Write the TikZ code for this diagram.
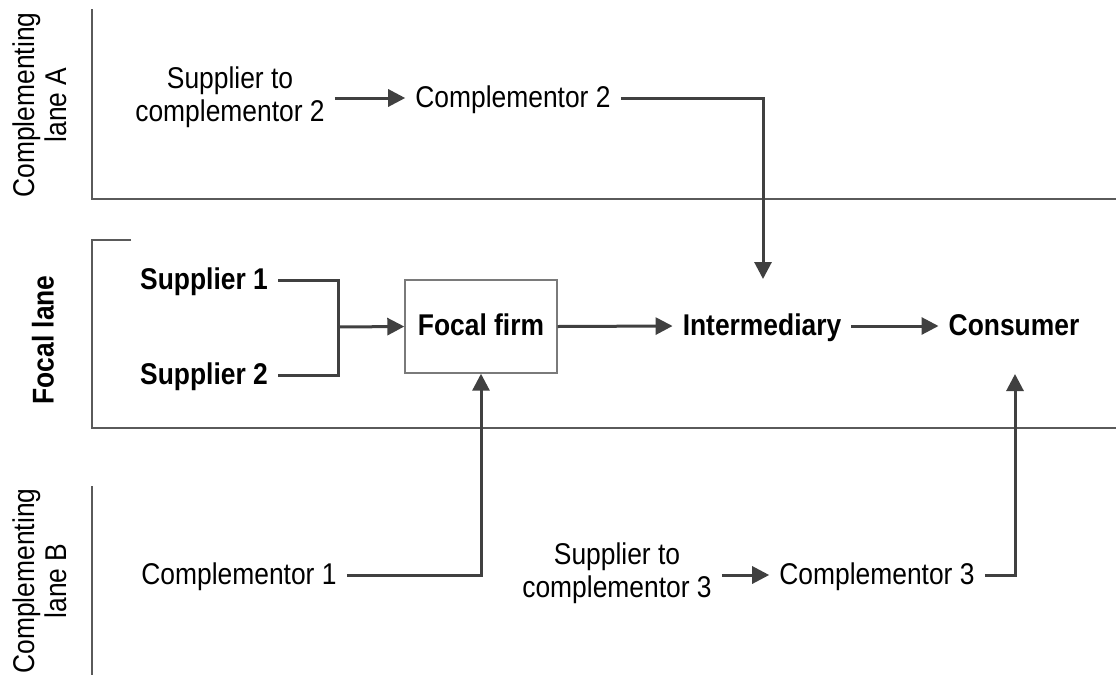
\documentclass[tikz,border=0pt]{standalone}
\usepackage{fontspec}
\setmainfont{Liberation Sans}[FakeStretch=0.88]
\usetikzlibrary{arrows.meta}
\definecolor{linegray}{HTML}{404040}
\definecolor{lanegray}{HTML}{5A5A5A}
\definecolor{boxgray}{HTML}{7A7A7A}
\begin{document}
\begin{tikzpicture}[x=1pt,y=-1pt,
  every node/.style={font=\fontsize{30}{32.5}\selectfont},
  lbl/.style={inner xsep=10pt,inner ysep=2pt,align=center},
  one/.style={lbl,text height=22pt,text depth=4pt},
  bold/.style={one,font=\fontsize{30}{32.5}\selectfont\bfseries},
  lanetitle/.style={rotate=90,align=center,inner sep=0pt},
  laneline/.style={draw=lanegray,line width=1.5pt},
  flow/.style={draw=linegray,line width=3pt},
  arr/.style={flow,-{Triangle[length=17pt,width=17pt]}},
  firmbox/.style={draw=boxgray,line width=1.4pt,minimum width=152pt,minimum height=93pt,bold}
]
\useasboundingbox (0,0) rectangle (1116,675);

% lane frames
\draw[laneline] (92,9) -- (92,199) -- (1116,199);
\draw[laneline] (131,240) -- (92,240) -- (92,428) -- (1116,428);
\draw[laneline] (92,486) -- (92,675);

% lane titles
\node[lanetitle] (laneA) at (40,105) {Complementing\\lane A};
\node[lanetitle,font=\fontsize{30}{32.5}\selectfont\bfseries] (laneF) at (43,340) {Focal lane};
\node[lanetitle] (laneB) at (40,581) {Complementing\\lane B};

% complementing lane A
\node[lbl] (s2c2) at (230,97) {Supplier to\\complementor 2};
\node[one] (c2) at (513,98) {Complementor 2};

% focal lane
\node[bold] (sup1) at (204,280) {Supplier 1};
\node[bold] (sup2) at (204,375) {Supplier 2};
\node[firmbox] (ff) at (481,326.5) {Focal firm};
\node[bold] (inter) at (762,326) {Intermediary};
\node[bold] (cons) at (1014,326) {Consumer};
\coordinate (join) at (338,327);
\coordinate (interTop) at (763,279);
\coordinate (consBottom) at (1015,374);

% complementing lane B
\node[one] (c1) at (239,575) {Complementor 1};
\node[lbl] (s2c3) at (617,573) {Supplier to\\complementor 3};
\node[one] (c3) at (877,575) {Complementor 3};

% connectors
\draw[arr] (s2c2.east |- c2.west) -- (c2.west);
\draw[arr] (c2.east) -| (interTop);
\draw[flow] (sup1.east) -| (join);
\draw[flow] (sup2.east) -| (join);
\draw[arr] (join) -- (ff.west);
\draw[arr] (ff.east) -- (inter.west);
\draw[arr] (inter.east) -- (cons.west);
\draw[arr] (c1.east) -| (ff.south);
\draw[arr] (s2c3.east |- c3.west) -- (c3.west);
\draw[arr] (c3.east) -| (consBottom);
\end{tikzpicture}
\end{document}
